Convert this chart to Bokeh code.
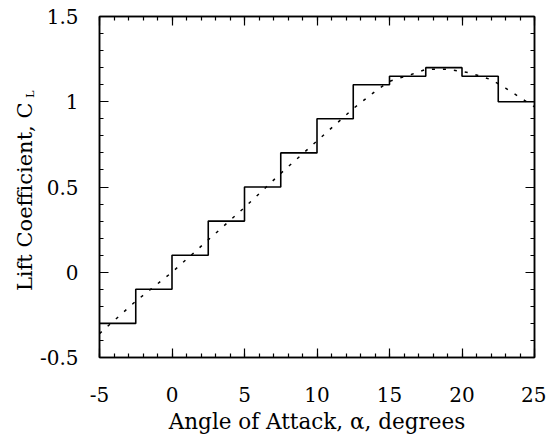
from bokeh.plotting import figure
from bokeh.models import (Range1d, LinearAxis, SingleIntervalTicker, Title,
                          CustomLabelingPolicy)
from bokeh.embed import file_html
from bokeh.resources import INLINE

# ---- data ----
step_edges = [-5, -2.5, 0, 2.5, 5, 7.5, 10, 12.5, 15, 17.5, 20, 22.5, 25]
step_cl = [-0.3, -0.1, 0.1, 0.3, 0.5, 0.7, 0.9, 1.1, 1.15, 1.2, 1.15, 1.0]

curve_alpha = [-5, -2.5, 0, 2.5, 5, 7.5, 10, 12.5, 14, 15, 16.5, 17.5, 19, 20.5, 22, 23, 25]
curve_cl = [-0.36, -0.17, 0.0, 0.19, 0.38, 0.58, 0.77, 0.96, 1.06, 1.12, 1.16, 1.19, 1.19, 1.17, 1.13, 1.08, 0.97]

x_ticks = [-5, 0, 5, 10, 15, 20, 25]
x_tick_labels = ["-5", "0", "5", "10", "15", "20", "25"]
y_ticks = [-0.5, 0, 0.5, 1, 1.5]
y_tick_labels = ["-0.5", "0", "0.5", "1", "1.5"]

x_title = "Angle of Attack, \u03b1, degrees"
y_title = "Lift Coefficient, C"
y_title_sub = "L"

FONT = "DejaVu Serif"

p = figure(width=546, height=436,
           x_range=Range1d(-5, 25), y_range=Range1d(-0.5, 1.5),
           output_backend="svg", toolbar_location=None,
           min_border_left=99, min_border_right=12,
           min_border_top=16, min_border_bottom=79)
p.grid.visible = False
p.outline_line_color = "black"
p.outline_line_width = 1.5
p.background_fill_color = "white"
p.border_fill_color = "white"

hide_labels = CustomLabelingPolicy(code="return new Set()")

def style_axis(ax, show_labels):
    ax.axis_line_color = "black"
    ax.axis_line_width = 1.5
    ax.major_tick_in = 9
    ax.major_tick_out = 0
    ax.minor_tick_in = 4
    ax.minor_tick_out = 0
    ax.major_tick_line_color = "black"
    ax.minor_tick_line_color = "black"
    ax.major_tick_line_width = 1.2
    ax.minor_tick_line_width = 1.2
    if show_labels:
        ax.major_label_text_font = FONT
        ax.major_label_text_font_size = "20px"
        ax.major_label_text_color = "black"
    else:
        ax.major_label_policy = hide_labels
        ax.major_label_text_font_size = "1px"
        ax.major_label_standoff = 0

xa = p.xaxis[0]
xa.ticker = SingleIntervalTicker(interval=5, num_minor_ticks=5)
xa.major_label_overrides = dict(zip(x_ticks, x_tick_labels))
style_axis(xa, True)
xa.major_label_standoff = 29
xa.axis_label = x_title
xa.axis_label_text_font = FONT
xa.axis_label_text_font_size = "21.5px"
xa.axis_label_text_font_style = "normal"
xa.axis_label_text_color = "black"
xa.axis_label_standoff = 4

ya = p.yaxis[0]
ya.ticker = SingleIntervalTicker(interval=0.5, num_minor_ticks=5)
ya.major_label_overrides = dict(zip(y_ticks, y_tick_labels))
style_axis(ya, True)
ya.major_label_standoff = 21

top = LinearAxis(ticker=SingleIntervalTicker(interval=5, num_minor_ticks=5))
style_axis(top, False)
p.add_layout(top, "above")
right = LinearAxis(ticker=SingleIntervalTicker(interval=0.5, num_minor_ticks=5))
style_axis(right, False)
p.add_layout(right, "right")

# step (solid)
p.step(step_edges, step_cl + step_cl[-1:], mode="after",
       line_color="black", line_width=1.6)
# continuous curve (dotted)
p.line(curve_alpha, curve_cl, line_color="black", line_width=1.5,
       line_dash="3 8")

# y title with subscript, as side-panel titles
sub = Title(text=y_title_sub, align="right", offset=74, standoff=-1,
            text_font=FONT, text_font_size="11px", text_font_style="normal",
            text_color="black")
main = Title(text=y_title, align="right", offset=86, standoff=-28,
             text_font=FONT, text_font_size="21px", text_font_style="normal",
             text_color="black")
p.add_layout(sub, "left")
p.add_layout(main, "left")

open("out.html", "w").write(file_html(p, INLINE))
